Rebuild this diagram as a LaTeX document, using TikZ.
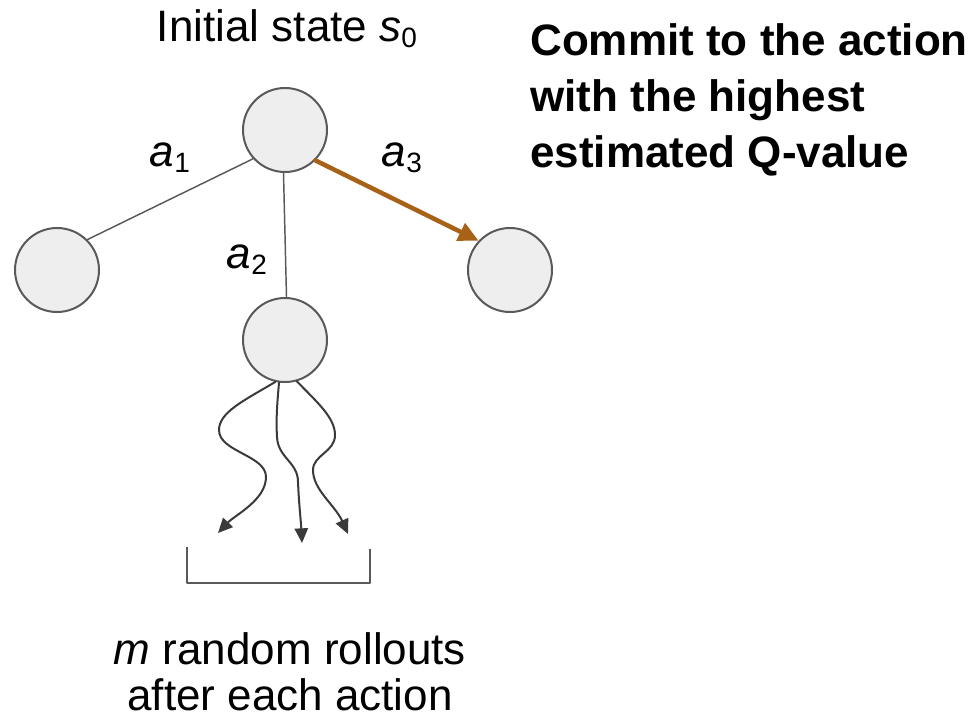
\documentclass[tikz,border=0pt]{standalone}
\usepackage{fontspec}
\setmainfont{Liberation Sans}
\usetikzlibrary{arrows.meta}

\definecolor{nodefill}{HTML}{EEEEEE}
\definecolor{nodeline}{HTML}{595959}
\definecolor{commitbrown}{RGB}{168,98,24}
\definecolor{rolloutgray}{HTML}{3A3A3A}

% lowered small figure after an italic letter
\newcommand{\lowsub}[1]{\raisebox{-5pt}{\fontsize{21}{21}\selectfont #1}}

\begin{document}
\begin{tikzpicture}[x=0.75pt,y=-0.75pt, line cap=round, line join=round,
  statenode/.style={circle, draw=nodeline, fill=nodefill, line width=1.5pt,
    minimum size=63pt, inner sep=0pt},
  branch/.style={draw=nodeline, line width=1.1pt},
  commit/.style={draw=commitbrown, line width=3.4pt,
    -{Triangle[length=15pt,width=14pt]}},
  rollout/.style={draw=rolloutgray, line width=1.5pt,
    -{Triangle[length=11pt,width=10pt]}},
  lbl/.style={font=\fontsize{33}{42}\selectfont, inner sep=0pt}]

% Room for the whole picture (pixel grid, y pointing down)
\useasboundingbox (0,0) rectangle (980,722);

% -----------------------------
% States
% -----------------------------
\node[statenode] (root)  at (285,130) {};
\node[statenode] (left)  at (57,270)  {};
\node[statenode] (mid)   at (285,340) {};
\node[statenode] (right) at (510,270) {};

% -----------------------------
% Actions
% -----------------------------
\draw[branch] (root.222) -- (left.45);
\draw[branch] (root.-92) -- (mid.88);
\draw[commit] (root.-45) -- (right.137);

\node[lbl, anchor=base] (aone)   at (170,166) {\textit{a}\lowsub{1}};
\node[lbl, anchor=base] (atwo)   at (247,268) {\textit{a}\lowsub{2}};
\node[lbl, anchor=base] (athree) at (402,166) {\textit{a}\lowsub{3}};

% -----------------------------
% Rollouts after a_2
% -----------------------------
\coordinate (tipone)   at (218,533);
\coordinate (tiptwo)   at (302,543);
\coordinate (tipthree) at (348,534);

\draw[rollout] (mid.257) .. controls (245,400) and (219,412) .. (219,430)
  .. controls (219,452) and (266,455) .. (266,477)
  .. controls (266,500) and (235,515) .. (tipone);
\draw[rollout] (mid.262) .. controls (277,405) and (276,420) .. (277,437)
  .. controls (278,458) and (298,462) .. (298,482)
  .. controls (299,505) and (301,522) .. (tiptwo);
\draw[rollout] (mid.286) .. controls (318,403) and (335,418) .. (335,435)
  .. controls (335,452) and (313,455) .. (313,470)
  .. controls (313,490) and (335,505) .. (tipthree);

% bracket under the rollouts
\draw[draw=nodeline, line width=1.4pt, line cap=butt] (187,547) |- (370,583) -- (370,549);

% -----------------------------
% Texts (base = baseline of the last line)
% -----------------------------
\node[lbl, anchor=base] (inittext) at (287,41) {Initial state \textit{s}\lowsub{0}};

\node[lbl, anchor=base west, align=left, font=\fontsize{33}{42}\selectfont\bfseries]
  (committext) at (530,167) {Commit to the action\\with the highest\\estimated Q-value};

\node[lbl, anchor=base, align=center, font=\fontsize{33}{34}\selectfont]
  (rollouttext) at (290,710) {\textit{m} random rollouts\\after each action};

\end{tikzpicture}
\end{document}
